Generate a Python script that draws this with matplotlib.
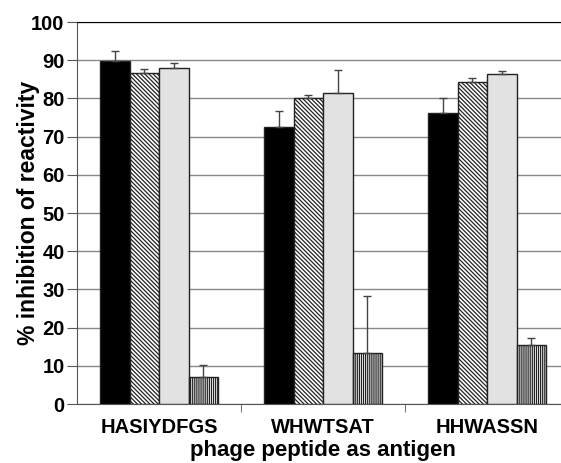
import numpy as np
import matplotlib.pyplot as plt

plt.rcParams['font.family'] = ['Liberation Sans', 'DejaVu Sans']
plt.rcParams['font.weight'] = 'bold'
plt.rcParams['hatch.linewidth'] = 0.9

peptides = ['HASIYDFGS', 'WHWTSAT', 'HHWASSN']
black_vals = [89.7, 72.5, 76.3]
black_err = [2.6, 4.3, 3.7]
diag_vals = [86.7, 80.0, 84.3]
diag_err = [1.0, 1.0, 1.0]
grey_vals = [88.0, 81.3, 86.3]
grey_err = [1.2, 6.2, 1.0]
vert_vals = [7.0, 13.3, 15.4]
vert_err = [3.2, 15.0, 2.0]

fig = plt.figure(figsize=(5.61, 4.63), dpi=100)
ax = fig.add_axes([0.1373, 0.1274, 0.877, 0.825])

x = np.arange(len(peptides))
w = 0.18
series = [
    (black_vals, black_err, 'black', ''),
    (diag_vals, diag_err, 'white', '\\' * 8),
    (grey_vals, grey_err, '#e2e2e2', ''),
    (vert_vals, vert_err, 'white', '|' * 8),
]
for i, (vals, err, fc, hatch) in enumerate(series):
    pos = x + (i - 1.5) * w
    ax.bar(pos, vals, width=w, color=fc, edgecolor='#222222', linewidth=1.0,
           hatch=hatch, zorder=3)
    ax.errorbar(pos, vals, yerr=[np.zeros(len(vals)), err], fmt='none',
                ecolor='#444444', elinewidth=1.0, capsize=3, capthick=1.0,
                zorder=4)

ax.set_ylim(0, 100)
ax.set_xlim(-0.5, 2.5)
ax.set_yticks(range(0, 101, 10))
ax.yaxis.grid(True, color='#888888', linewidth=1.0, zorder=0)
ax.set_xticks(x)
ax.set_xticklabels(peptides)
ax.set_xticks([0.5, 1.5], minor=True)
ax.tick_params(axis='x', which='major', length=0, pad=10, labelsize=14.5)
ax.tick_params(axis='x', which='minor', length=6, direction='out', color='#555555')
ax.tick_params(axis='y', length=7, pad=2, direction='out', color='#555555', labelsize=14.5)

ax.spines['right'].set_visible(False)
ax.spines['top'].set_color('black')
ax.spines['left'].set_color('#555555')
ax.spines['bottom'].set_color('#555555')

ax.set_xlabel('phage peptide as antigen', fontsize=16, fontweight='bold', labelpad=2)
ax.set_ylabel('% inhibition of reactivity', fontsize=16.5, fontweight='bold')
ax.yaxis.set_label_coords(-0.075, 0.5)

fig.savefig('out.png', dpi=100)
